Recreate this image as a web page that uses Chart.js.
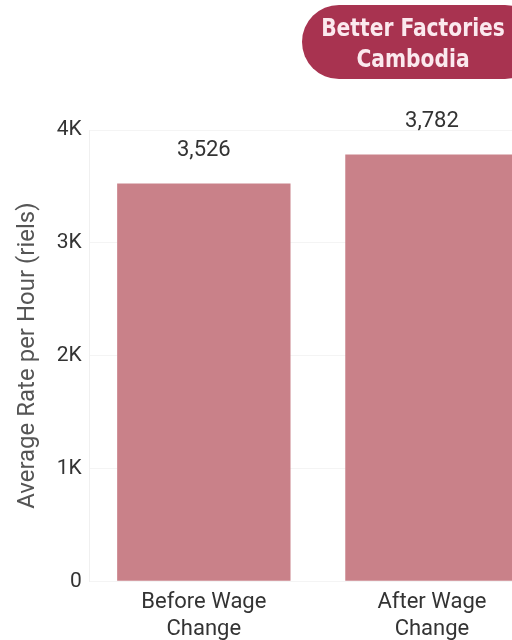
<!DOCTYPE html>
<html>
<head>
<meta charset="utf-8">
<script src="https://cdn.jsdelivr.net/npm/chart.js@4/dist/chart.umd.min.js"></script>
<style>
  html, body { margin: 0; padding: 0; background: #ffffff; overflow: hidden; width: 512px; height: 640px; }
  #wrap { position: relative; width: 512px; height: 640px; overflow: hidden; }
  #rateChart { position: absolute; left: 0; top: 0; }
  .badge {
    position: absolute; left: 302px; top: 5px; width: 240px; height: 74px;
    background: #a83350; border-radius: 37px;
    color: #fbe9ee; font-family: "DejaVu Sans", sans-serif; font-weight: bold;
    font-stretch: condensed; font-size: 25px; line-height: 31px;
    padding-top: 7px; box-sizing: border-box;
  }
  .badge span {
    display: block; width: 222px; text-align: center;
    transform: scaleX(0.9); transform-origin: 111px 50%;
  }
</style>
</head>
<body>
<div id="wrap">
  <canvas id="rateChart" width="556" height="643"></canvas>
  <div class="badge"><span>Better Factories</span><span>Cambodia</span></div>
</div>
<script>
// ------------------------------------------------------
// DATA
// ------------------------------------------------------

const categories = [
    ["Before Wage", "Change"],
    ["After Wage", "Change"]
];

const hourlyRate = [3526, 3782];

const yTicks = [0, 1000, 2000, 3000, 4000];
const yTickLabels = ["0", "1K", "2K", "3K", "4K"];

// ------------------------------------------------------
// VALUE LABELS ABOVE BARS
// ------------------------------------------------------

const valueLabels = {
    id: "valueLabels",
    afterDatasetsDraw(chart) {
        const ctx = chart.ctx;
        const meta = chart.getDatasetMeta(0);
        ctx.save();
        ctx.font = "22px Roboto";
        ctx.fillStyle = "#333333";
        ctx.textAlign = "center";
        ctx.textBaseline = "middle";
        meta.data.forEach((bar, i) => {
            ctx.fillText(hourlyRate[i].toLocaleString("en-US"), bar.x, bar.y - 33);
        });
        ctx.restore();
    }
};

// ------------------------------------------------------
// CHART
// ------------------------------------------------------

new Chart(document.getElementById("rateChart"), {
    type: "bar",
    data: {
        labels: categories,
        datasets: [{
            data: hourlyRate,
            backgroundColor: "#c98189",
            borderWidth: 0,
            barPercentage: 0.76,
            categoryPercentage: 1
        }]
    },
    options: {
        responsive: false,
        animation: false,
        layout: {
            padding: { top: 130, right: 10, left: 14, bottom: 0 }
        },
        plugins: {
            legend: { display: false },
            tooltip: { enabled: false }
        },
        scales: {
            x: {
                grid: { display: false },
                border: { display: false },
                ticks: {
                    color: "#333333",
                    font: { family: "Roboto", size: 22, lineHeight: 1.22 },
                    padding: 0,
                    maxRotation: 0
                }
            },
            y: {
                min: 0,
                max: 4000,
                afterBuildTicks(axis) {
                    axis.ticks = yTicks.map(v => ({ value: v }));
                },
                grid: { color: "#f4f4f4", drawTicks: false },
                border: { display: true, color: "#f0f0f0" },
                ticks: {
                    color: "#333333",
                    font: { family: "Roboto", size: 21 },
                    padding: 8,
                    callback: (value) => yTickLabels[yTicks.indexOf(value)]
                },
                title: {
                    display: true,
                    text: "Average Rate per Hour (riels)",
                    color: "#555555",
                    font: { family: "Roboto", size: 24 },
                    padding: { top: 0, bottom: 6 }
                }
            }
        }
    },
    plugins: [valueLabels]
});
</script>
</body>
</html>
